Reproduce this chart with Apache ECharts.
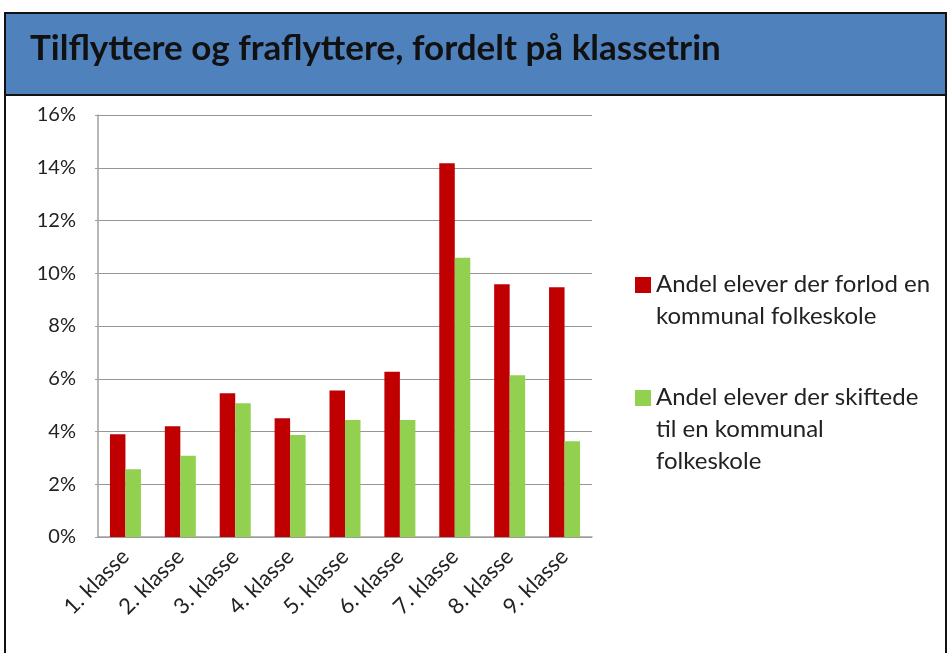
<!DOCTYPE html>
<html><head><meta charset="utf-8">
<script src="https://cdn.jsdelivr.net/npm/echarts@6/dist/echarts.min.js"></script>
<style>html,body{margin:0;padding:0;background:#fff}#c{width:948px;height:653px}</style>
</head><body><div id="c"></div>
<script>
const categories = ['1. klasse','2. klasse','3. klasse','4. klasse','5. klasse','6. klasse','7. klasse','8. klasse','9. klasse'];
const forlod = [3.9, 4.2, 5.45, 4.5, 5.55, 6.27, 14.17, 9.58, 9.47];
const skiftede = [2.57, 3.08, 5.07, 3.87, 4.44, 4.44, 10.59, 6.13, 3.63];
const seriesNames = ['Andel elever der forlod en\nkommunal folkeskole', 'Andel elever der skiftede\ntil en kommunal\nfolkeskole'];
const colors = ['#C00000', '#92D050'];
const titleText = 'Tilflyttere og fraflyttere, fordelt på klassetrin';
const font = 'Lato, "Open Sans", sans-serif';

const chart = echarts.init(document.getElementById('c'), null, {renderer:'canvas'});
chart.setOption({
  animation: false,
  backgroundColor: '#fff',
  title: {
    text: titleText, left: 25, top: 26,
    textStyle: {fontFamily: font, fontWeight: 'bold', fontSize: 35, color: '#111'}
  },
  graphic: [
    {type:'rect', z: -10, shape:{x:5, y:13, width:941, height:82}, style:{fill:'#4F81BD', stroke:'#111', lineWidth:2}},
    {type:'rect', z: -11, shape:{x:5, y:13, width:941, height:660}, style:{fill:'#fff', stroke:'#111', lineWidth:2}},
    {type:'rect', shape:{x:635, y:277, width:16, height:16}, style:{fill:colors[0]}},
    {type:'text', x:656, y:268, style:{text:seriesNames[0], font:'24px ' + font, fill:'#222', lineHeight:32}},
    {type:'rect', shape:{x:635, y:390, width:16, height:16}, style:{fill:colors[1]}},
    {type:'text', x:656, y:381, style:{text:seriesNames[1], font:'24px ' + font, fill:'#222', lineHeight:32}}
  ],
  legend: {show:false},
  grid: {left: 98, top: 115, right: 356, bottom: 116, containLabel:false},
  xAxis: {
    type:'category', data: categories,
    axisLine:{lineStyle:{color:'#a0a0a0', width:1.5}},
    axisTick:{show:false},
    axisLabel:{rotate:45, fontFamily:font, fontSize:22, color:'#222', margin:16, interval:0}
  },
  yAxis: {
    type:'value', min:0, max:16, interval:2,
    axisLine:{show:true, lineStyle:{color:'#a0a0a0', width:1.5}},
    axisTick:{show:true, length:3, lineStyle:{color:'#a0a0a0'}},
    splitLine:{lineStyle:{color:'#969696', width:1.2}},
    axisLabel:{formatter: v => v + '%', fontFamily:font, fontSize:20, color:'#222', margin:22}
  },
  series: [
    {name: seriesNames[0], type:'bar', data: forlod, itemStyle:{color:colors[0]}, barWidth:15.5, barGap:'0%'},
    {name: seriesNames[1], type:'bar', data: skiftede, itemStyle:{color:colors[1]}, barWidth:15.5, barGap:'0%'}
  ]
});
</script></body></html>
